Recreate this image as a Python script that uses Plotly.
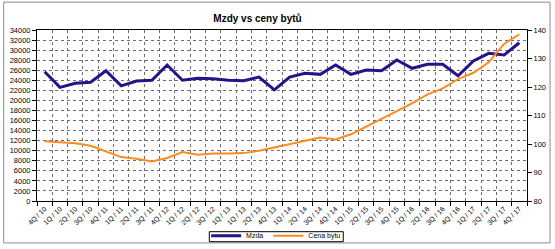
import plotly.graph_objects as go

quarters = ["4Q / 10", "1Q / 10", "2Q / 10", "3Q / 10", "4Q / 11", "1Q / 11", "2Q / 11", "3Q / 11",
            "4Q / 12", "1Q / 12", "2Q / 12", "3Q / 12", "1Q / 13", "1Q / 13", "2Q / 13", "4Q / 13",
            "1Q / 14", "2Q / 14", "3Q / 14", "4Q / 14", "1Q / 15", "2Q / 15", "3Q / 15", "4Q / 15",
            "1Q / 16", "2Q / 16", "3Q / 16", "4Q / 16", "1Q / 17", "2Q / 17", "3Q / 17", "4Q / 17"]

mzda = [25700, 22600, 23400, 23600, 25900, 22900, 23850, 24000,
        27040, 24000, 24400, 24300, 24000, 23900, 24650, 22100,
        24650, 25380, 25180, 27040, 25180, 26040, 25900, 28030,
        26380, 27170, 27170, 24900, 27830, 29360, 29020, 31470]

cena_bytu = [101.0, 100.7, 100.3, 99.4, 97.5, 95.4, 94.8, 93.9,
             95.1, 97.2, 96.2, 96.7, 96.7, 96.8, 97.6, 98.8,
             100.0, 101.2, 102.3, 101.6, 103.4, 106.1, 108.7, 111.5,
             114.3, 117.4, 119.5, 122.8, 125.0, 128.7, 135.1, 138.5]

left_ticks = list(range(0, 34001, 2000))
right_ticks = list(range(80, 141, 10))

x = list(range(len(quarters)))
FONT = "Liberation Sans, Arial, sans-serif"
GRID = "#6e6e6e"

fig = go.Figure()
fig.add_trace(go.Scatter(x=x, y=mzda, name="Mzda", mode="lines",
                         line=dict(color="#28128a", width=3), yaxis="y"))
fig.add_trace(go.Scatter(x=x, y=cena_bytu, name="Cena bytu", mode="lines",
                         line=dict(color="#ff8a1f", width=2), yaxis="y2"))

fig.update_layout(
    width=555, height=249,
    margin=dict(l=37, r=28, t=30, b=48, autoexpand=False),
    paper_bgcolor="white", plot_bgcolor="white",
    font=dict(family=FONT, size=7.5, color="#000"),
    title=dict(text="<b>Mzdy vs ceny bytů</b>", x=0.45, xref="paper", xanchor="center",
               y=1 - 18 / 249, yanchor="middle", font=dict(size=10, family=FONT, color="#000")),
    showlegend=True,
    legend=dict(orientation="h", x=0.488, xanchor="center", y=-0.118, yanchor="top",
                borderwidth=0, bgcolor="rgba(0,0,0,0)",
                font=dict(size=7, family=FONT, color="#000"), itemwidth=30,
                tracegroupgap=0),
    xaxis=dict(range=[-0.5, len(quarters) - 0.5], tickmode="array", tickvals=x, ticktext=quarters,
               tickangle=-45, ticks="", showgrid=False, zeroline=False, automargin=False,
               showline=True, linecolor="#000", linewidth=1, mirror=True,
               tickfont=dict(size=7, family=FONT, color="#000"),
               minor=dict(tickmode="linear", tick0=-0.5, dtick=1, showgrid=True,
                          gridcolor=GRID, gridwidth=0.6, griddash="dot",
                          ticks="outside", ticklen=4, tickcolor="#000")),
    yaxis=dict(range=[0, 34000], tickmode="array", tickvals=left_ticks,
               ticktext=[str(v) for v in left_ticks], automargin=False,
               showgrid=True, gridcolor=GRID, gridwidth=0.6, griddash="dot",
               ticks="outside", ticklen=4, tickcolor="#000", zeroline=False,
               showline=True, linecolor="#000", linewidth=1,
               tickfont=dict(size=7.5, family=FONT, color="#000")),
    yaxis2=dict(range=[80, 140], tickmode="array", tickvals=right_ticks,
                ticktext=[str(v) for v in right_ticks], overlaying="y", side="right",
                showgrid=False, zeroline=False, ticks="outside", ticklen=4, tickcolor="#000",
                showline=True, linecolor="#000", linewidth=1, automargin=False,
                tickfont=dict(size=7.5, family=FONT, color="#000")),
    shapes=[
        dict(type="rect", xref="paper", yref="paper",
             x0=-0.068, x1=1.047, y0=-0.245, y1=1.163,
             line=dict(color="#8a8a8a", width=1), layer="below"),
        dict(type="rect", xref="paper", yref="paper",
             x0=0.3516, x1=0.625, y0=-0.238, y1=-0.1795,
             line=dict(color="#000", width=1), layer="above"),
    ],
)

fig.write_html("out.html")
